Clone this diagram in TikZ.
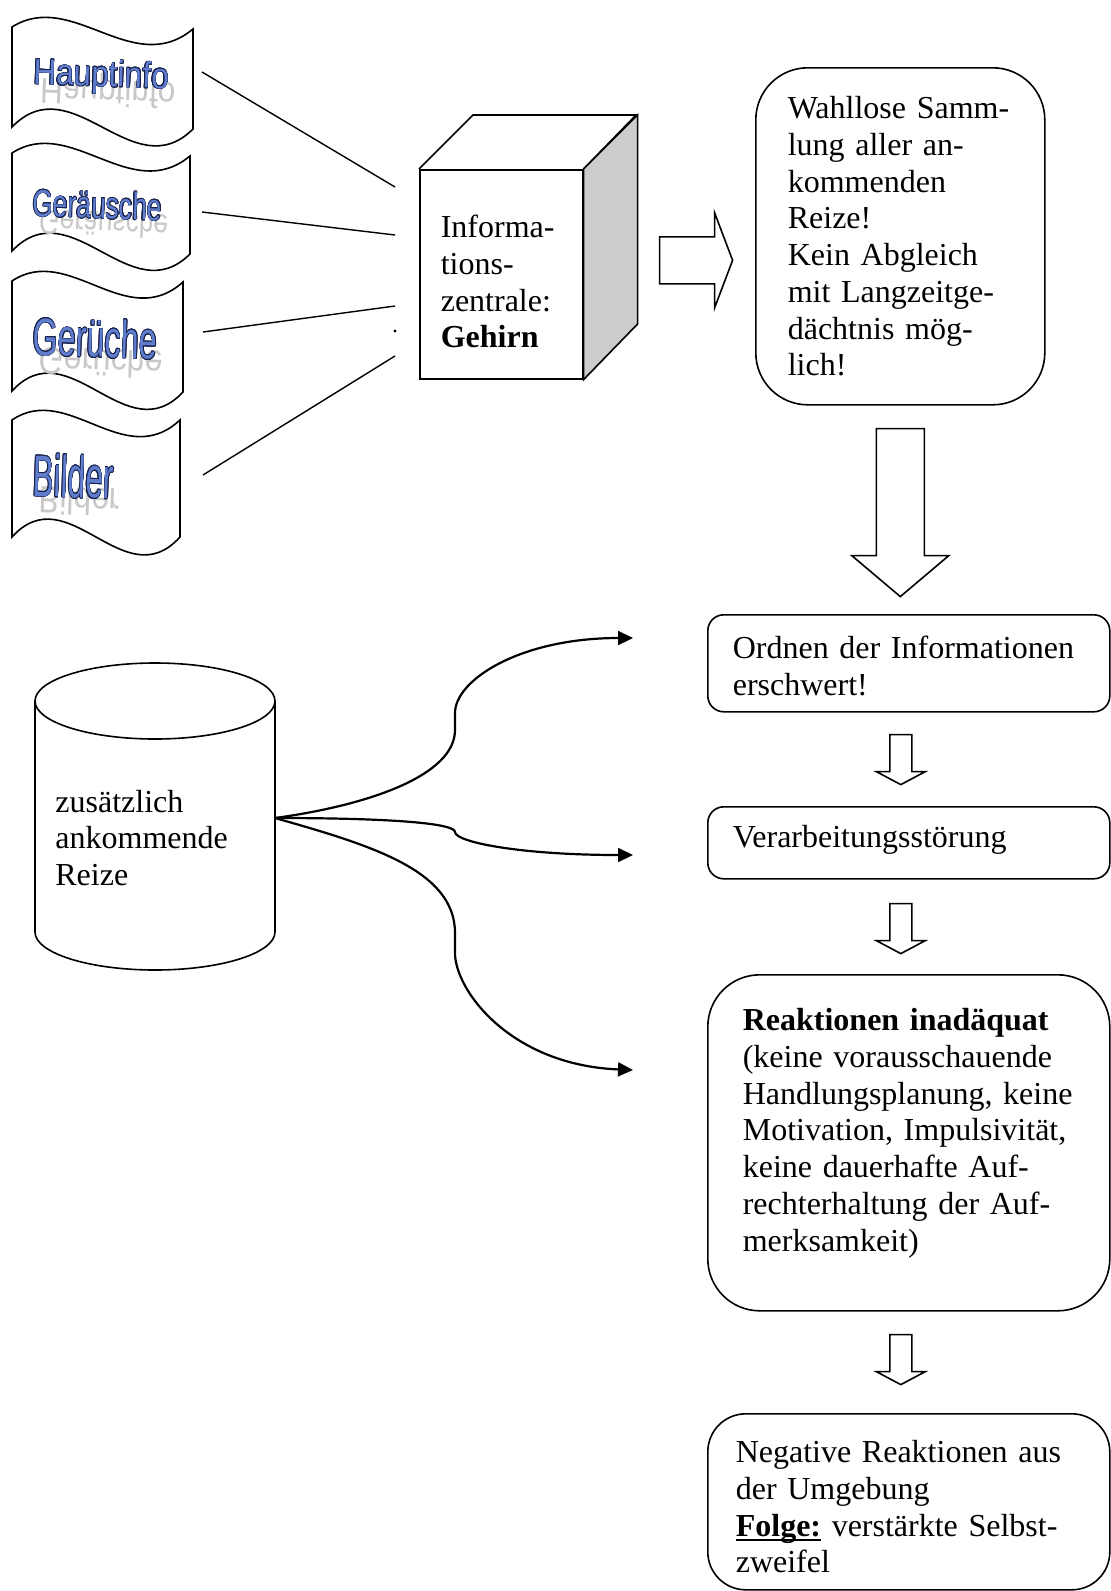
\documentclass[tikz,border=0pt]{standalone}
\usepackage{fontspec}
\setmainfont{Liberation Serif}
\newfontfamily\artfont{Liberation Sans}
\usepackage{graphicx}
\usepackage[copies]{contour}
\contourlength{0.32pt}
\usetikzlibrary{arrows.meta,calc}

\definecolor{artfill}{RGB}{96,124,205}
\definecolor{artline}{RGB}{22,32,72}
\definecolor{artshadow}{RGB}{200,200,200}
\definecolor{sideface}{RGB}{204,204,204}

\newcommand\boxfont{\fontsize{16}{18.35}\selectfont}
\newcommand\flagword[5]{%
  \rlap{\kern3.5pt\raisebox{#4}{\color{artshadow}\scalebox{#1}[-#3]{#5}}}%
  \scalebox{#1}[#2]{\color{artfill}\contour{artline}{#5}}}
\newsavebox\ulbox
\newcommand\ulword[1]{\leavevmode\sbox\ulbox{#1}\rlap{\rule[-2.4pt]{\wd\ulbox}{1.2pt}}\usebox\ulbox}

\tikzset{
  flag/.pic={
    \tikzset{/flag/.cd,#1}
    \draw [line width=0.8pt, pic actions]
    (0,0) .. controls (\flagw/3,-38) and (2*\flagw/3,52) .. (\flagw,\flagtilt)
    -- (\flagw,\flagh+\flagtilt)
    .. controls (2*\flagw/3,\flagh+62) and (\flagw/3,\flagh-62) .. (0,\flagh) -- cycle;
  },
  fat arrow/.pic={
    \tikzset{/fat/.cd,#1}
    \filldraw [fill=white, line width=0.8pt, pic actions]
    (0,-\fatshaft/2) -- (\fatlen-\fattip,-\fatshaft/2) -- (\fatlen-\fattip,-\fathead/2)
    -- (\fatlen,0) -- (\fatlen-\fattip,\fathead/2) -- (\fatlen-\fattip,\fatshaft/2)
    -- (0,\fatshaft/2) -- cycle;
  },
  /flag/.cd,
  width/.store in=\flagw,
  height/.store in=\flagh,
  tilt/.store in=\flagtilt,
  width=180,
  height=100,
  tilt=0,
  /fat/.cd,
  length/.store in=\fatlen,
  shaft/.store in=\fatshaft,
  head/.store in=\fathead,
  tip/.store in=\fattip,
  length=50,
  shaft=22,
  head=49,
  tip=13,
}

\begin{document}
\begin{tikzpicture}[x=0.5pt, y=-0.5pt,
  wordart/.style={font=\artfont\fontsize{20}{20}\selectfont, anchor=base west, inner sep=0pt, rotate=-2},
  txtbox/.style={draw, line width=0.8pt, anchor=north west, inner ysep=0pt, align=left, font=\boxfont},
  feed/.style={line width=0.7pt},
  branch/.style={line width=1.1pt, -{Triangle[length=7.5pt, width=7pt]}}]
  \useasboundingbox (0,0) rectangle (1111,1591);

  % the four flags
  \pic at (12,27) {flag={width=181, height=100, tilt=2}};
  \pic at (12,153) {flag={width=178, height=98, tilt=3}};
  \pic at (12,281) {flag={width=171, height=110, tilt=1}};
  \pic at (12,420) {flag={width=168, height=117, tilt=0}};
  \node[wordart] (hauptinfo) at (33,84) {\flagword{0.79}{0.91}{0.9}{3pt}{Hauptinfo}};
  \node[wordart] (geraeusche) at (32,216) {\flagword{0.66}{0.95}{0.85}{3pt}{Geräusche}};
  \node[wordart] (gerueche) at (32,355) {\flagword{0.81}{1.33}{0.95}{4pt}{Gerüche}};
  \node[wordart] (bilder) at (32,496) {\flagword{0.79}{1.47}{0.95}{5pt}{Bilder}};

  % brain cube
  \node[txtbox, inner xsep=10.5pt, text width=60.5pt, text height=34pt, text depth=70.5pt]
    (brain) at (419,169) {Informa-\\tions-\\zentrale:\\\textbf{Gehirn}};
  \draw[line width=0.8pt] (brain.north west) -- ++(54,-54) -- ++(163,0) -- (brain.north east);
  \filldraw[fill=sideface, line width=0.8pt] (brain.north east) -- ++(54,-54) -- ++(0,209) -- (brain.south east) -- cycle;

  \coordinate (haupt-out) at (202,72);
  \coordinate (geraeusch-out) at (202,212);
  \coordinate (geruch-out) at (203,332);
  \coordinate (bild-out) at (203,475);
  \coordinate (in1) at (395,187);
  \coordinate (in2) at (395,235);
  \coordinate (in3) at (395,306);
  \coordinate (in4) at (395,356);
  \coordinate (stray) at (395,331);
  \draw[feed] (haupt-out) -- (in1);
  \draw[feed] (geraeusch-out) -- (in2);
  \draw[feed] (geruch-out) -- (in3);
  \draw[feed] (bild-out) -- (in4);
  \fill (stray) circle (0.8pt);

  % right column
  \node[txtbox, rounded corners=26pt, inner xsep=16pt, text width=112.5pt, text height=25.5pt, text depth=143pt]
    (sammlung) at (755,67) {Wahllose Samm-\\lung aller an-\\kommenden\\Reize!\\Kein Abgleich\\mit Langzeitge-\\dächtnis mög-\\lich!};
  \node[txtbox, rounded corners=8pt, inner xsep=12.5pt, text width=176pt, text height=22pt, text depth=26.5pt]
    (ordnen) at (707,614) {Ordnen der Informationen\\erschwert!};
  \node[txtbox, rounded corners=8pt, inner xsep=12.5pt, text width=176pt, text height=20.5pt, text depth=15.5pt]
    (stoerung) at (707,806) {Verarbeitungsstörung};
  \node[txtbox, rounded corners=26pt, inner xsep=17.5pt, text width=166pt, text height=28pt, text depth=140pt]
    (reaktion) at (707,974) {\textbf{Reaktionen inadäquat}\\(keine vorausschauende\\Handlungsplanung, keine\\Motivation, Impulsivität,\\keine dauerhafte Auf-\\rechterhaltung der Auf-\\merksamkeit)};
  \node[txtbox, rounded corners=19pt, inner xsep=14pt, text width=173pt, text height=24.5pt, text depth=63.5pt]
    (umgebung) at (707,1413) {Negative Reaktionen aus\\der Umgebung\\\ulword{\textbf{Folge:}} verstärkte Selbst-\\zweifel};

  \pic at ($(brain.east)+(76,-14)$) {fat arrow={length=73, shaft=47, head=95, tip=18}};
  \pic[rotate=-90] at ($(sammlung.south)+(0,23)$) {fat arrow={length=168, shaft=48, head=97, tip=41}};
  \pic[rotate=-90] at ($(ordnen.south)+(-8,22)$) {fat arrow};
  \pic[rotate=-90] at ($(stoerung.south)+(-8,24)$) {fat arrow};
  \pic[rotate=-90] at ($(reaktion.south)+(-8,23)$) {fat arrow};

  % cylinder with extra stimuli
  \draw[line width=0.8pt] (35,701) -- (35,932) arc[start angle=180, end angle=360, x radius=60pt, y radius=19pt] -- (275,701);
  \draw[line width=0.8pt] (155,701) ellipse [x radius=60pt, y radius=19pt];
  \node[font=\boxfont, align=left, text width=90pt, anchor=base west, inner sep=0pt]
    (reize) at (55,812) {zusätzlich\\ankommende\\Reize};

  \coordinate (fork) at (275,818);
  \coordinate (hit1) at (633,638);
  \coordinate (hit2) at (633,855);
  \coordinate (hit3) at (633,1070);
  \draw[branch] (fork) .. controls (370,805) and (455,775) .. (455,730) -- (455,713)
    .. controls (455,680) and (520,638) .. (hit1);
  \draw[branch] (fork) .. controls (400,818) and (455,824) .. (455,832)
    .. controls (455,842) and (520,855) .. (hit2);
  \draw[branch] (fork) .. controls (370,845) and (455,870) .. (455,933) -- (455,953)
    .. controls (455,990) and (510,1065) .. (hit3);
\end{tikzpicture}
\end{document}
